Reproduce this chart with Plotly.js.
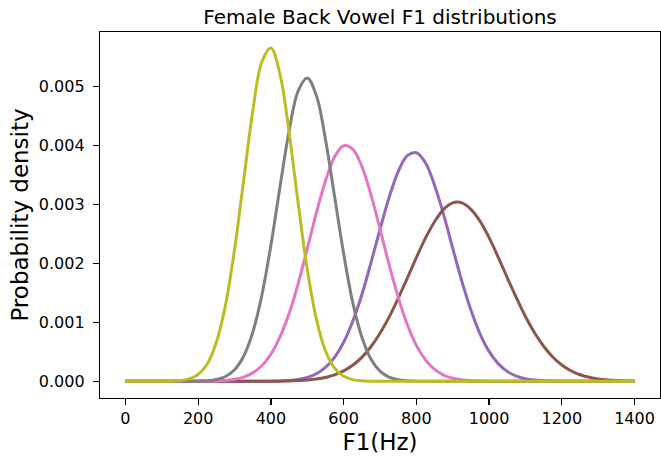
<!DOCTYPE html>
<html>
<head>
<meta charset="utf-8">
<script src="https://cdn.plot.ly/plotly-3.0.1.min.js"></script>
<style>html,body{margin:0;padding:0;background:#fff;}#chart{width:661px;height:459px;}</style>
</head>
<body>
<div id="chart"></div>
<script>
// F1 (Hz) sample grid, every 25 Hz
const freqHz = [0,25,50,75,100,125,150,175,200,225,250,275,300,325,350,375,400,425,450,475,500,525,550,575,600,625,650,675,700,725,750,775,800,825,850,875,900,925,950,975,1000,1025,1050,1075,1100,1125,1150,1175,1200,1225,1250,1275,1300,1325,1350,1375,1400];

const densPurple = [0,0,0,0,0,0,0,0,0,0,0,0,0,0,0,0.000001,0.000003,0.000006,0.000015,0.000032,0.000066,0.000128,0.000236,0.000407,0.000663,0.00102,0.00147,0.00201,0.00258,0.00312,0.00356,0.00383,0.00388,0.00371,0.00333,0.00283,0.00226,0.00170,0.00121,0.000807,0.000508,0.000301,0.000169,0.000089,0.000044,0.000021,0.000009,0.000004,0.000001,0,0,0,0,0,0,0,0];

const densBrown = [0,0,0,0,0,0,0,0,0,0,0,0,0,0,0,0.000001,0.000001,0.000003,0.000006,0.000012,0.000021,0.000038,0.000066,0.000110,0.000177,0.000273,0.000407,0.000587,0.000815,0.00109,0.00141,0.00175,0.00210,0.00243,0.00271,0.00292,0.00303,0.00303,0.00292,0.00272,0.00244,0.00211,0.00176,0.00142,0.00110,0.000824,0.000595,0.000414,0.000278,0.000180,0.000112,0.000068,0.000039,0.000022,0.000012,0.000006,0.000003];

const densPink = [0,0,0,0,0,0,0,0,0.000001,0.000003,0.000006,0.000015,0.000034,0.000072,0.000143,0.000264,0.000461,0.000753,0.00115,0.00166,0.00225,0.00286,0.00340,0.00381,0.00400,0.00394,0.00365,0.00317,0.00259,0.00198,0.00143,0.000964,0.000611,0.000364,0.000203,0.000107,0.000052,0.000024,0.000011,0.000004,0.000002,0.000001,0,0,0,0,0,0,0,0,0,0,0,0,0,0,0];

const densGray = [0,0,0,0,0,0,0,0.000001,0.000003,0.000010,0.000031,0.000082,0.000197,0.000426,0.000831,0.00146,0.00231,0.00330,0.00425,0.00493,0.00515,0.00485,0.00411,0.00314,0.00217,0.00134,0.000753,0.000380,0.000172,0.000071,0.000026,0.000009,0.000003,0.000001,0,0,0,0,0,0,0,0,0,0,0,0,0,0,0,0,0,0,0,0,0,0,0];

const densOlive = [0,0,0,0,0.000001,0.000003,0.000013,0.000041,0.000119,0.000295,0.000663,0.00129,0.00224,0.00341,0.00458,0.00542,0.00566,0.00521,0.00423,0.00302,0.00190,0.00106,0.000518,0.000224,0.000085,0.000029,0.000008,0.000002,0,0,0,0,0,0,0,0,0,0,0,0,0,0,0,0,0,0,0,0,0,0,0,0,0,0,0,0,0];

const xTicks = [0,200,400,600,800,1000,1200,1400];
const yTicks = [0,0.001,0.002,0.003,0.004,0.005];

const series = [
  {y: densPurple, color: '#9467bd'},
  {y: densBrown, color: '#8c564b'},
  {y: densPink, color: '#e377c2'},
  {y: densGray, color: '#7f7f7f'},
  {y: densOlive, color: '#bcbd22'}
];

const traces = series.map(s => ({
  x: freqHz, y: s.y, type: 'scatter', mode: 'lines',
  line: {color: s.color, width: 3, shape: 'spline', smoothing: 1},
  hoverinfo: 'skip', showlegend: false
}));

const font = {family: 'DejaVu Sans, sans-serif', color: '#000'};

const layout = {
  width: 661, height: 459,
  margin: {l: 100, r: 1, t: 32, b: 61},
  paper_bgcolor: '#fff', plot_bgcolor: '#fff',
  font: Object.assign({size: 16}, font),
  title: {text: 'Female Back Vowel F1 distributions', font: Object.assign({size: 20}, font),
          x: 0.5, xref: 'paper', y: 1 - 17/459, yref: 'container', yanchor: 'middle'},
  xaxis: {
    range: [-70, 1470], tickvals: xTicks, ticktext: xTicks.map(String),
    showgrid: false, zeroline: false, showline: true, mirror: true,
    linecolor: '#000', linewidth: 1.2, ticks: 'outside', ticklen: 6, tickwidth: 1.2, tickcolor: '#000',
    tickfont: Object.assign({size: 16}, font),
    title: {text: 'F1(Hz)', font: Object.assign({size: 23}, font), standoff: 6}
  },
  yaxis: {
    range: [-0.000283, 0.00593], tickvals: yTicks, ticktext: yTicks.map(v => v.toFixed(3)),
    showgrid: false, zeroline: false, showline: true, mirror: true,
    linecolor: '#000', linewidth: 1.2, ticks: 'outside', ticklen: 6, tickwidth: 1.2, tickcolor: '#000',
    ticklabelstandoff: 5,
    tickfont: Object.assign({size: 16}, font),
    title: {text: 'Probability density', font: Object.assign({size: 23}, font), standoff: 3}
  }
};

Plotly.newPlot('chart', traces, layout, {displayModeBar: false, staticPlot: true});
</script>
</body>
</html>
